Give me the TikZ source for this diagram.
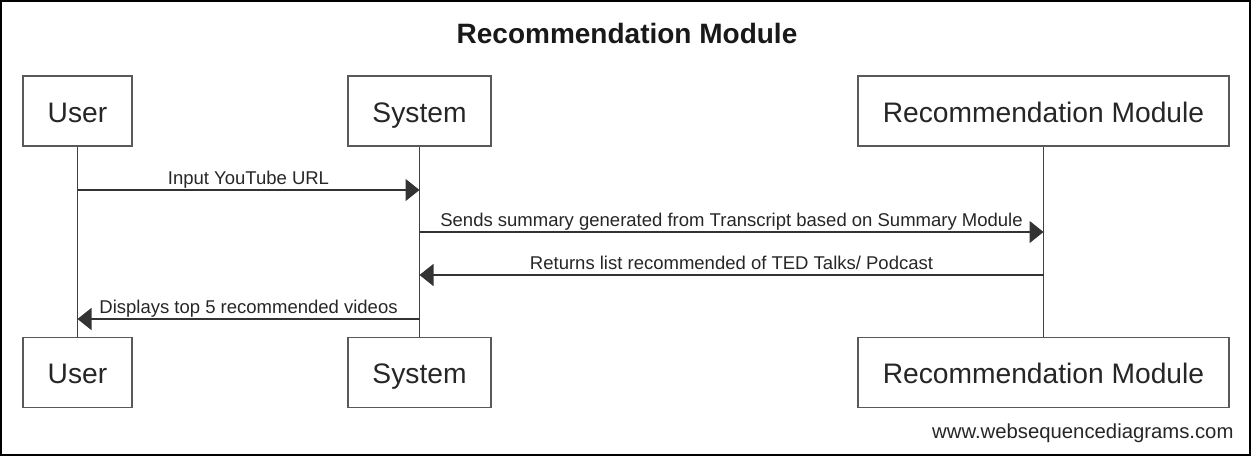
\documentclass[tikz,border=0pt]{standalone}
\usepackage{fontspec}
\setmainfont{Liberation Sans}
\usetikzlibrary{arrows.meta}
\begin{document}
\begin{tikzpicture}[x=1pt, y=-1pt,
	actor/.style={draw=black!65, line width=1.4pt, fill=white, text=black!85, minimum height=70pt, inner sep=0pt, text height=24pt, text depth=2pt, font=\fontsize{28.2}{30}\selectfont},
	msg/.style={line width=1.3pt, draw=black!80, -{Triangle[length=14pt, width=22pt]}},
	lbl/.style={text=black!85, font=\fontsize{18.5}{20}\selectfont, inner sep=0pt, anchor=base, yshift=5.5pt}
]

% Frame
\useasboundingbox (0,0) rectangle (1254,456);
\draw[line width=2.2pt] (1,1) rectangle (1250,455);

% Title
\node[anchor=base, text=black!90, font=\bfseries\fontsize{28}{30}\selectfont] (title) at (627,43) {Recommendation Module};

% Participants
\node[actor, minimum width=109pt] (userT) at (77.5,111) {User};
\node[actor, minimum width=143pt] (sysT) at (419.5,111) {System};
\node[actor, minimum width=371pt] (recT) at (1043.5,111) {Recommendation Module};

\node[actor, minimum width=109pt] (userB) at (77.5,372.5) {User};
\node[actor, minimum width=143pt] (sysB) at (419.5,372.5) {System};
\node[actor, minimum width=371pt] (recB) at (1043.5,372.5) {Recommendation Module};

% Lifelines
\draw[line width=1.3pt, black!75] (userT) -- (userB);
\draw[line width=1.3pt, black!75] (sysT) -- (sysB);
\draw[line width=1.3pt, black!75] (recT) -- (recB);

% Messages
\coordinate (u1) at (userT.south |- 0,190);
\coordinate (s1) at (sysT.south |- 0,190);
\coordinate (s2) at (sysT.south |- 0,232);
\coordinate (r2) at (recT.south |- 0,232);
\coordinate (r3) at (recT.south |- 0,275);
\coordinate (s3) at (sysT.south |- 0,275);
\coordinate (s4) at (sysT.south |- 0,319);
\coordinate (u4) at (userT.south |- 0,319);

\draw[msg] (u1) -- node[lbl] {Input YouTube URL} (s1);
\draw[msg] (s2) -- node[lbl] {Sends summary generated from Transcript based on Summary Module} (r2);
\draw[msg] (r3) -- node[lbl] {Returns list recommended of TED Talks/ Podcast} (s3);
\draw[msg] (s4) -- node[lbl] {Displays top 5 recommended videos} (u4);

% Footer
\node[anchor=base east, text=black!85, font=\fontsize{20.3}{22}\selectfont] (footer) at (1237,438) {www.websequencediagrams.com};

\end{tikzpicture}
\end{document}
